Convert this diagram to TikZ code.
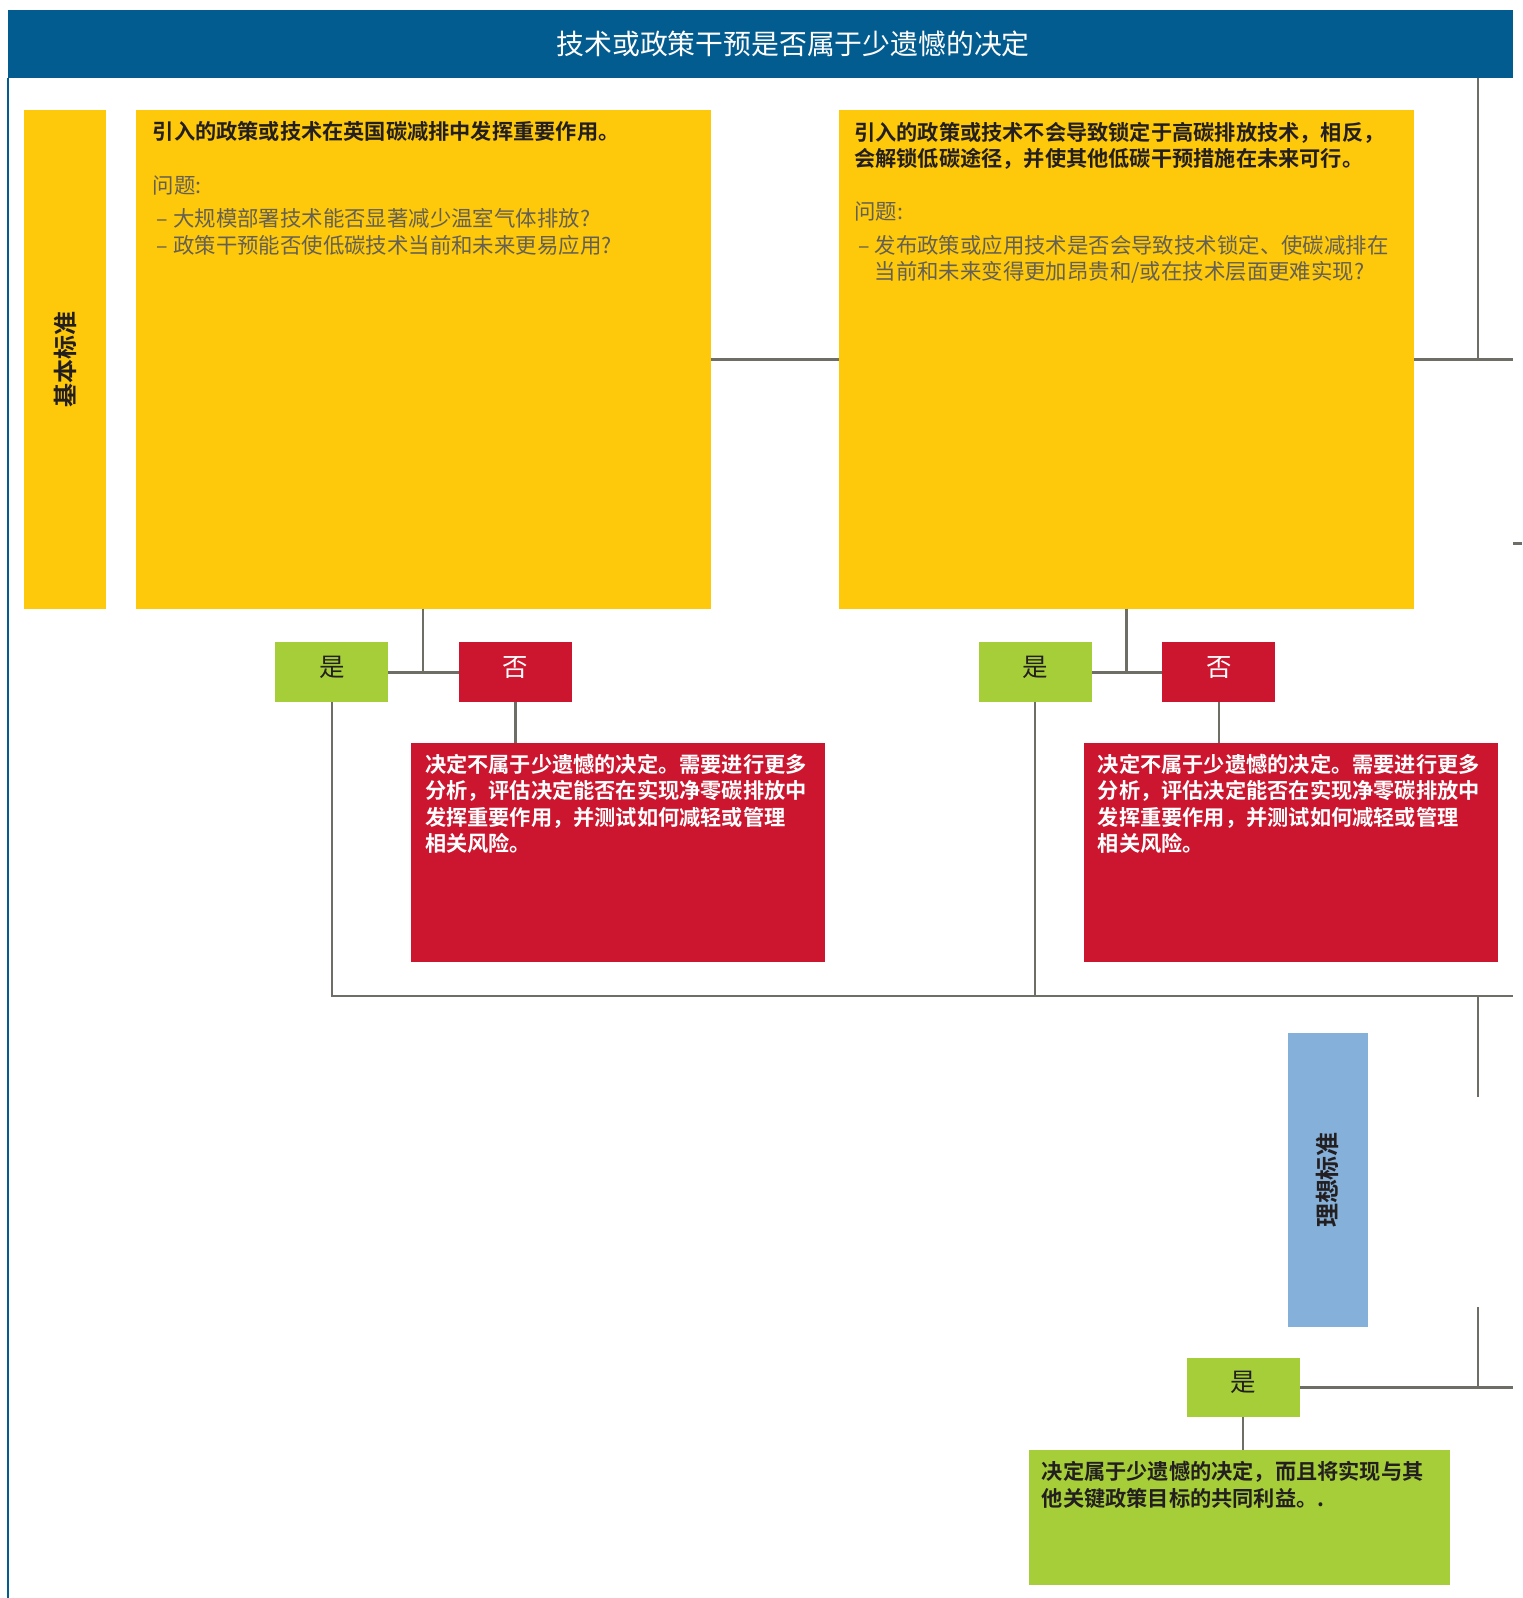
\documentclass[tikz,border=0pt]{standalone}
\usepackage{fontspec}
\setmainfont{Noto Sans CJK SC}[BoldFont={Noto Sans CJK SC Bold}]
\definecolor{cblue}{RGB}{3,92,143}
\definecolor{cyellow}{RGB}{254,200,11}
\definecolor{cgreen}{RGB}{166,206,57}
\definecolor{cred}{RGB}{204,21,46}
\definecolor{clblue}{RGB}{133,176,217}
\definecolor{cline}{RGB}{110,110,103}
\definecolor{cdark}{RGB}{35,31,32}
\definecolor{qgray}{RGB}{100,96,84}
\newcommand{\yn}[1]{\raisebox{12pt}{#1}}
\begin{document}
\begin{tikzpicture}[x=1pt,y=-1pt,
  box/.style={draw=none,inner sep=0,outer sep=0,anchor=north west},
  ybox/.style={box,fill=cyellow},
  rbox/.style={box,fill=cred},
  gbox/.style={box,fill=cgreen},
  yesbox/.style={box,fill=cgreen,minimum width=111,minimum height=59,text=cdark,font=\fontsize{25}{28}\selectfont},
  nobox/.style={box,fill=cred,minimum width=111,minimum height=59,text=white,font=\fontsize{25}{28}\selectfont},
  labelbox/.style={rotate=90,inner sep=0,outer sep=0,text=cdark,font=\bfseries\fontsize{23.5}{26}\selectfont},
  para/.style={anchor=north west,inner sep=0,outer sep=0,align=left,font=\fontsize{21}{26}\selectfont},
  boldpara/.style={para,font=\bfseries\fontsize{20.8}{26}\selectfont},
  conn/.style={draw=cline,line width=2.4pt}]
\useasboundingbox (0,0) rectangle (1493,1567.5);
% title
\node[box,fill=cblue,minimum width=1476,minimum height=67] (title) at (8,10) {};
\node[inner sep=0,text=white,font=\fontsize{27.3}{30}\selectfont] (titletext) at (778,43.5) {技术或政策干预是否属于少遗憾的决定};
\coordinate (bordbot) at (8,1567.5);
\draw[cblue,line width=2pt] (title.south west) -- (bordbot);
% criteria labels
\node[labelbox,fill=cyellow,minimum width=489,minimum height=80] (lab1) at (64,352.5) {基本标准};
\node[labelbox,fill=clblue,minimum width=289,minimum height=79] (lab2) at (1302.5,1157.5) {理想标准};
% question boxes
\node[ybox,minimum width=564,minimum height=489] (q1) at (133,108) {};
\node[ybox,minimum width=564,minimum height=489] (q2) at (823,108) {};
\node[para,text=qgray] (q1text) at (150,119.5) {\textcolor{cdark}{\bfseries\fontsize{20.8}{26}\selectfont 引入的政策或技术在英国碳减排中发挥重要作用。}\\[26pt]
问题:\\[7pt]
\hspace*{4pt}– 大规模部署技术能否显著减少温室气体排放?\\
\hspace*{4pt}– 政策干预能否使低碳技术当前和未来更易应用?};
\node[para,text=qgray] (q2text) at (838,119.5) {\textcolor{cdark}{\bfseries\fontsize{20.8}{26}\selectfont 引入的政策或技术不会导致锁定于高碳排放技术，相反，}\\
\textcolor{cdark}{\bfseries\fontsize{20.8}{26}\selectfont 会解锁低碳途径，并使其他低碳干预措施在未来可行。}\\[26pt]
问题:\\[7pt]
\hspace*{4pt}– 发布政策或应用技术是否会导致技术锁定、使碳减排在\\
\hspace*{4pt}\phantom{– }当前和未来变得更加昂贵和/或在技术层面更难实现?};
% yes / no
\node[yesbox] (y1) at (270,630) {\yn{是}};
\node[nobox] (n1) at (450,630) {\yn{否}};
\node[yesbox] (y2) at (960,630) {\yn{是}};
\node[nobox] (n2) at (1140,630) {\yn{否}};
\node[yesbox,minimum height=58] (y3) at (1164,1332) {\yn{是}};
% outcome boxes
\node[rbox,minimum width=406,minimum height=215] (r1) at (403,729) {};
\node[rbox,minimum width=406,minimum height=215] (r2) at (1063,729) {};
\node[gbox,minimum width=413,minimum height=133] (g1) at (1009,1422) {};
\node[boldpara,text=white] (r1text) at (417,739.5) {决定不属于少遗憾的决定。需要进行更多\\分析，评估决定能否在实现净零碳排放中\\发挥重要作用，并测试如何减轻或管理\\相关风险。};
\node[boldpara,text=white] (r2text) at (1077,739.5) {决定不属于少遗憾的决定。需要进行更多\\分析，评估决定能否在实现净零碳排放中\\发挥重要作用，并测试如何减轻或管理\\相关风险。};
\node[boldpara,text=cdark] (g1text) at (1022,1433.5) {决定属于少遗憾的决定，而且将实现与其\\他关键政策目标的共同利益。.};
% helper coordinates
\coordinate (rend1) at (1484,352.5);
\coordinate (topv) at (1450,77);
\coordinate (hbe) at (1484,977);
\coordinate (v2a) at (1450,977);
\coordinate (v2b) at (1450,1076);
\coordinate (v3a) at (1450,1282);
\coordinate (rend3) at (1484,1361);
\coordinate (ticka) at (1484,533);
\coordinate (tickb) at (1493,533);
% connectors
\draw[conn] (q1.east) -- (q2.west);
\draw[conn] (q2.east) -- (rend1);
\draw[conn] (topv) -- (topv |- rend1);
\draw[conn] (ticka) -- (tickb);
\draw[conn] (q1.south) -- (q1.south |- y1.east);
\draw[conn] (y1.east) -- (n1.west);
\draw[conn] (n1.south) -- (n1.south |- r1.north);
\draw[conn] (q2.south) -- (q2.south |- y2.east);
\draw[conn] (y2.east) -- (n2.west);
\draw[conn] (n2.south) -- (n2.south |- r2.north);
\draw[conn] (y1.south) |- (hbe);
\draw[conn] (y2.south) -- (y2.south |- hbe);
\draw[conn] (v2a) -- (v2b);
\draw[conn] (v3a) -- (v3a |- y3.east);
\draw[conn] (y3.east) -- (rend3);
\draw[conn] (y3.south) -- (y3.south |- g1.north);
\end{tikzpicture}
\end{document}
